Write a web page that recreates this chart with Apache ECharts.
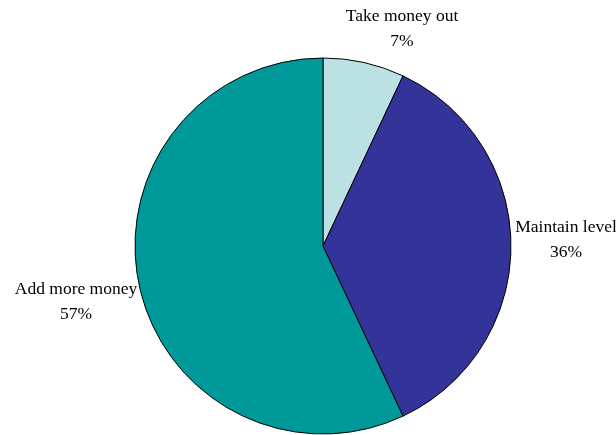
<!DOCTYPE html>
<html>
<head>
<meta charset="utf-8">
<style>
  html, body { margin: 0; padding: 0; background: #fff; }
  #chart { width: 616px; height: 435px; }
</style>
<script src="https://cdn.jsdelivr.net/npm/echarts@6/dist/echarts.min.js"></script>
</head>
<body>
<div id="chart"></div>
<script>
// Share of respondents by planned action
const categories = ['Take money out', 'Maintain level', 'Add more money'];
const values = [7, 36, 57];
const colors = ['#BCE1E4', '#333399', '#009999'];
// Label anchor points (centre of each two-line label)
const labelAnchors = [[402, 29], [566, 240], [76, 302]];

const chart = echarts.init(document.getElementById('chart'), null, { renderer: 'canvas' });

chart.setOption({
  animation: false,
  backgroundColor: '#ffffff',
  series: [{
    type: 'pie',
    center: [323, 246],
    radius: [0, 188],
    startAngle: 90,
    clockwise: true,
    silent: true,
    data: categories.map((name, i) => ({
      name: name,
      value: values[i],
      itemStyle: { color: colors[i] }
    })),
    itemStyle: { borderColor: '#000', borderWidth: 1 },
    label: {
      show: true,
      position: 'outside',
      formatter: p => p.name + '\n' + p.value + '%',
      fontFamily: '"Liberation Serif", "Times New Roman", serif',
      fontSize: 17.5,
      lineHeight: 25,
      color: '#000',
      align: 'center',
      overflow: 'none',
      width: 200
    },
    labelLine: { show: false },
    labelLayout: function (params) {
      const a = labelAnchors[params.dataIndex];
      return { x: a[0], y: a[1], align: 'center', verticalAlign: 'middle' };
    }
  }]
});
</script>
</body>
</html>
